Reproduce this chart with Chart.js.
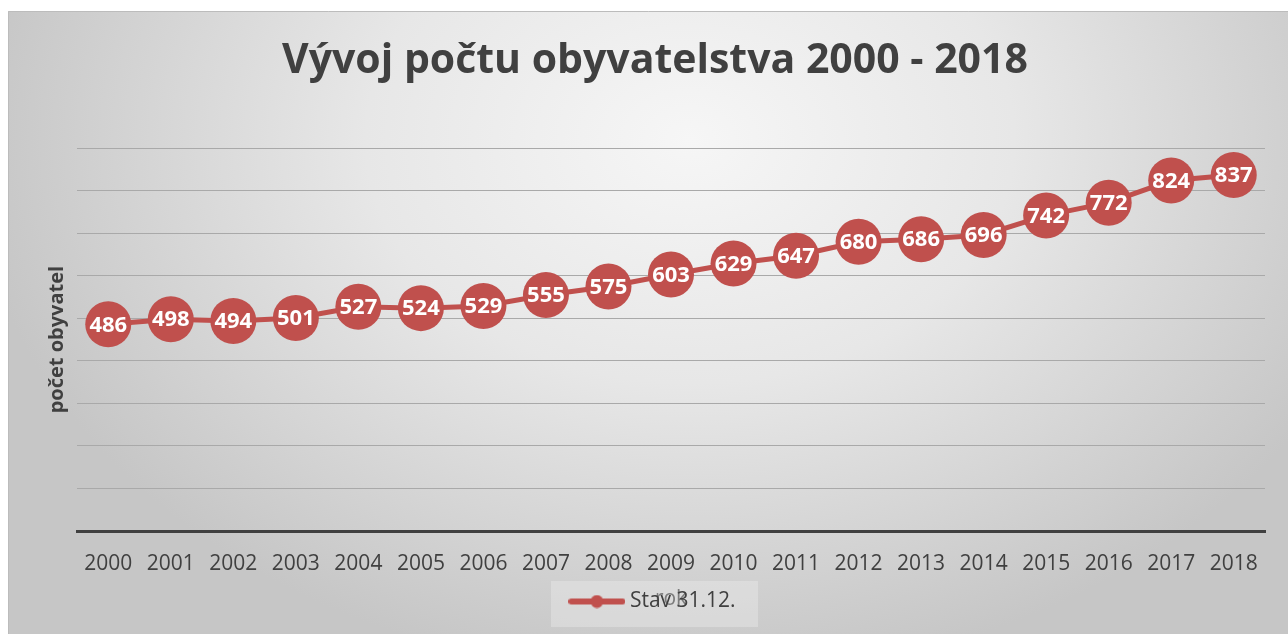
<!DOCTYPE html>
<html>
<head>
<meta charset="utf-8">
<script src="https://cdn.jsdelivr.net/npm/chart.js@4/dist/chart.umd.min.js"></script>
<style>
  html, body { margin: 0; padding: 0; background: #ffffff; }
  #wrap { width: 1288px; height: 634px; position: relative; }
  canvas { display: block; }
</style>
</head>
<body>
<div id="wrap"><canvas id="chart" width="1288" height="634"></canvas></div>
<script>
// ---- data ----
const chartTitle = 'Vývoj počtu obyvatelstva 2000 - 2018';
const yAxisTitle = 'počet obyvatel';
const xAxisTitle = 'rok';
const seriesName = 'Stav 31.12.';
const years = ['2000', '2001', '2002', '2003', '2004', '2005', '2006', '2007', '2008', '2009',
               '2010', '2011', '2012', '2013', '2014', '2015', '2016', '2017', '2018'];
const population = [486, 498, 494, 501, 527, 524, 529, 555, 575, 603,
                    629, 647, 680, 686, 696, 742, 772, 824, 837];
const yMin = 0;
const yMax = 900;
const yStep = 100;

// ---- styles ----
const RED = '#c0504d';
const DARK = '#404040';
const FONT = "'Open Sans', 'DejaVu Sans', sans-serif";

// legend symbol: line with a dot
const legendSymbol = document.createElement('canvas');
legendSymbol.width = 57; legendSymbol.height = 14;
(function () {
  const g = legendSymbol.getContext('2d');
  g.strokeStyle = RED; g.lineWidth = 6; g.lineCap = 'round';
  g.beginPath(); g.moveTo(3, 7); g.lineTo(54, 7); g.stroke();
  g.fillStyle = RED; g.beginPath(); g.arc(28.5, 7, 6.5, 0, Math.PI * 2); g.fill();
})();

const backgroundPlugin = {
  id: 'bg',
  beforeDraw(chart) {
    const ctx = chart.ctx;
    const W = chart.width, H = chart.height;
    ctx.save();
    ctx.fillStyle = '#ffffff';
    ctx.fillRect(0, 0, W, H);
    // elliptical radial gradient
    ctx.save();
    ctx.beginPath(); ctx.rect(8, 11, W - 8, H - 11); ctx.clip();
    ctx.translate(690, 140);
    ctx.scale(1, 0.75);
    const grd = ctx.createRadialGradient(0, 0, 0, 0, 0, 720);
    grd.addColorStop(0, '#f6f6f6');
    grd.addColorStop(0.45, '#e7e7e7');
    grd.addColorStop(1, '#c6c6c6');
    ctx.fillStyle = grd;
    ctx.fillRect(-900, -900, 1800, 1800);
    ctx.restore();
    // frame
    ctx.strokeStyle = '#bcbcbc';
    ctx.lineWidth = 1;
    ctx.beginPath(); ctx.moveTo(8.5, H); ctx.lineTo(8.5, 11.5); ctx.lineTo(W, 11.5); ctx.stroke();
    // legend box background
    ctx.fillStyle = 'rgba(240,240,240,0.35)';
    ctx.fillRect(551, 581, 207, 46);
    ctx.restore();
  }
};

const dataLabelPlugin = {
  id: 'dataLabels',
  afterDatasetsDraw(chart) {
    const ctx = chart.ctx;
    ctx.save();
    ctx.font = 'bold 22px ' + FONT;
    ctx.fillStyle = '#ffffff';
    ctx.textAlign = 'center';
    ctx.textBaseline = 'middle';
    chart.data.datasets.forEach((ds, di) => {
      const meta = chart.getDatasetMeta(di);
      meta.data.forEach((pt, i) => {
        ctx.fillText(String(ds.data[i]), pt.x, pt.y + 1);
      });
    });
    ctx.restore();
  }
};

new Chart(document.getElementById('chart'), {
  type: 'line',
  data: {
    labels: years,
    datasets: [{
      label: seriesName,
      data: population,
      borderColor: RED,
      backgroundColor: RED,
      borderWidth: 5,
      pointRadius: 23,
      pointHoverRadius: 23,
      pointBorderWidth: 0,
      pointBackgroundColor: RED,
      tension: 0,
      clip: false
    }]
  },
  options: {
    responsive: false,
    animation: false,
    events: [],
    layout: { padding: { left: 42, right: 20, top: 11, bottom: 12 } },
    plugins: {
      title: {
        display: true,
        text: chartTitle,
        color: DARK,
        font: { family: FONT, size: 41, weight: 'bold' },
        padding: { top: 26, bottom: 62 }
      },
      legend: {
        display: true,
        position: 'bottom',
        labels: {
          color: DARK,
          font: { family: FONT, size: 21 },
          usePointStyle: true,
          pointStyleWidth: 45,
          padding: 10,
          generateLabels: (chart) => [{
            text: seriesName,
            pointStyle: legendSymbol,
            fillStyle: RED,
            strokeStyle: RED,
            lineWidth: 0,
            fontColor: DARK,
            datasetIndex: 0
          }]
        }
      },
      tooltip: { enabled: false }
    },
    scales: {
      x: {
        type: 'category',
        offset: true,
        grid: { display: true, color: 'rgba(0,0,0,0)', drawTicks: false },
        border: { display: true, color: DARK, width: 3 },
        ticks: {
          color: DARK,
          font: { family: FONT, size: 21 },
          padding: 20,
          autoSkip: false,
          maxRotation: 0
        },
        title: {
          display: true,
          text: xAxisTitle,
          color: 'rgba(100,100,100,0.8)',
          font: { family: FONT, size: 21 },
          padding: { top: 0, bottom: -31 }
        },
        afterFit: (scale) => { scale.height = 50; }
      },
      y: {
        min: yMin,
        max: yMax,
        ticks: { display: false, stepSize: yStep },
        grid: { color: '#a9a9a9', lineWidth: 1, drawTicks: false },
        border: { display: false },
        title: {
          display: true,
          text: yAxisTitle,
          color: DARK,
          font: { family: FONT, size: 20, weight: 'bold' },
          padding: { top: 3, bottom: 0 }
        },
        afterFit: (scale) => { scale.width = 35; }
      }
    }
  },
  plugins: [backgroundPlugin, dataLabelPlugin]
});
</script>
</body>
</html>
